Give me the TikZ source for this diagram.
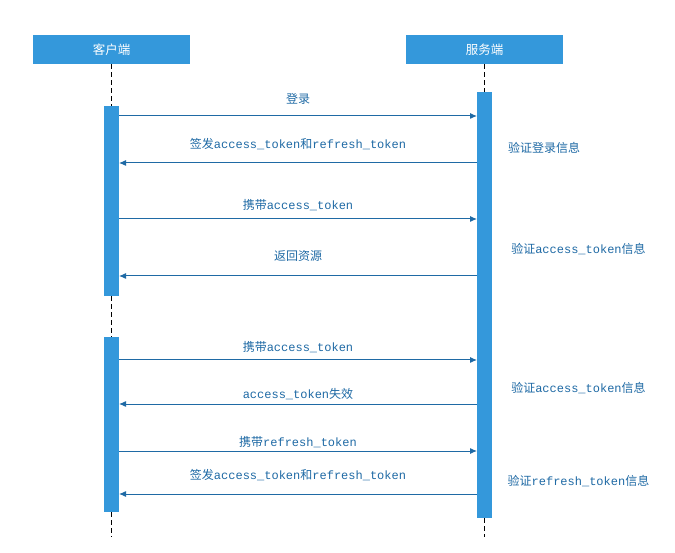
\documentclass[tikz,border=0pt]{standalone}
\usepackage{fontspec}
\setmainfont{Liberation Mono}
\newfontfamily\cjk{Noto Sans CJK SC}
\usetikzlibrary{arrows.meta,positioning}
\definecolor{barblue}{RGB}{52,152,219}
\definecolor{msgblue}{RGB}{31,106,165}

\begin{document}
\begin{tikzpicture}[x=1pt, y=-1pt,
    head/.style={fill=barblue, minimum width=157pt, minimum height=29pt, inner sep=0pt, text=white, font=\cjk\fontsize{12.5}{14}\selectfont},
    bar/.style={fill=barblue, minimum width=15pt, inner sep=0pt},
    life/.style={dash pattern=on 5pt off 3pt, line width=1pt},
    arr/.style={-{Latex[length=7pt,width=6pt]}, draw=msgblue, line width=1pt},
    lbl/.style={text=msgblue, font=\fontsize{12}{14}\selectfont, inner sep=1pt},
    note/.style={text=msgblue, font=\fontsize{12}{14}\selectfont, inner sep=1pt}
]
\useasboundingbox[fill=white] (0,0) rectangle (675,553);

% participants
\node[head] (client) at (111.5,49.5) {客户端};
\node[head] (server) at (484.5,49.5) {服务端};

% activation bars
\node[bar, minimum height=190pt] (cb1) at (111.5,201) {};
\node[bar, minimum height=175pt] (cb2) at (111.5,424.5) {};
\node[bar, minimum height=426pt] (sb) at (484.5,305) {};
\coordinate (cend) at (111.5,537);
\coordinate (send) at (484.5,537);

% lifelines
\draw[life] (client.south) -- (cb1.north);
\draw[life] (cb1.south) -- (cb2.north);
\draw[life] (cb2.south) -- (cend);
\draw[life] (server.south) -- (sb.north);
\draw[life] (sb.south) -- (send);

% message end points
\coordinate (c1) at (119,116); \coordinate (s1) at (477,116);
\coordinate (c2) at (119,163); \coordinate (s2) at (477,163);
\coordinate (c3) at (119,219); \coordinate (s3) at (477,219);
\coordinate (c4) at (119,276); \coordinate (s4) at (477,276);
\coordinate (c5) at (119,360); \coordinate (s5) at (477,360);
\coordinate (c6) at (119,404); \coordinate (s6) at (477,404);
\coordinate (c7) at (119,451); \coordinate (s7) at (477,451);
\coordinate (c8) at (119,494); \coordinate (s8) at (477,494);

% messages
\draw[arr] (c1) -- node[lbl, yshift=17pt] {{\cjk 登录}} (s1);
\draw[arr] (s2) -- node[lbl, yshift=19pt] {{\cjk 签发}access\_token{\cjk 和}refresh\_token} (c2);
\draw[arr] (c3) -- node[lbl, yshift=14pt] {{\cjk 携带}access\_token} (s3);
\draw[arr] (s4) -- node[lbl, yshift=20pt] {{\cjk 返回资源}} (c4);
\draw[arr] (c5) -- node[lbl, yshift=13pt] {{\cjk 携带}access\_token} (s5);
\draw[arr] (s6) -- node[lbl, yshift=10pt] {access\_token{\cjk 失效}} (c6);
\draw[arr] (c7) -- node[lbl, yshift=9pt] {{\cjk 携带}refresh\_token} (s7);
\draw[arr] (s8) -- node[lbl, yshift=19pt] {{\cjk 签发}access\_token{\cjk 和}refresh\_token} (c8);

% server notes
\node[note] (n1) at (544,148) {{\cjk 验证登录信息}};
\node[note] (n2) at (578.5,249) {{\cjk 验证}access\_token{\cjk 信息}};
\node[note] (n3) at (578.5,388) {{\cjk 验证}access\_token{\cjk 信息}};
\node[note] (n4) at (578.5,481) {{\cjk 验证}refresh\_token{\cjk 信息}};
\end{tikzpicture}
\end{document}
